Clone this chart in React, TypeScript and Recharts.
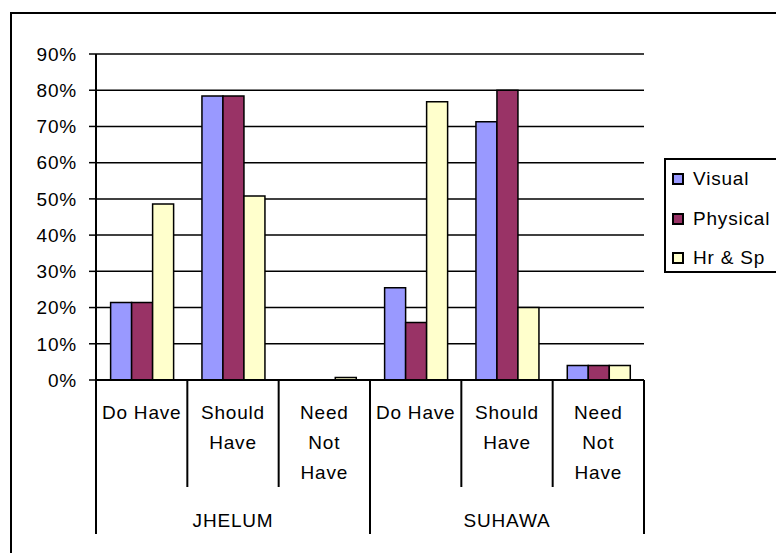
import React from 'react';
import { BarChart, Bar, XAxis, YAxis, CartesianGrid, Legend } from 'recharts';

// Survey groups and the answer categories inside each group
const groups = ['JHELUM', 'SUHAWA'];
const categories = ['Do Have', 'Should Have', 'Need Not Have'];
const categoryLines = [['Do Have'], ['Should', 'Have'], ['Need', 'Not', 'Have']];

// Percent of respondents per series, in order JHELUM (3 categories) then SUHAWA (3 categories)
const visual = [21.4, 78.4, 0, 25.5, 71.3, 4];
const physical = [21.4, 78.4, 0, 15.9, 80, 4];
const hrSp = [48.6, 50.8, 0.7, 76.8, 20, 4];

const yTicks = [0, 10, 20, 30, 40, 50, 60, 70, 80, 90];

const seriesDefs = [
  { key: 'visual', name: 'Visual', color: '#9999FF' },
  { key: 'physical', name: 'Physical', color: '#993366' },
  { key: 'hrSp', name: 'Hr & Sp', color: '#FFFFCC' },
];

const data = visual.map((v, i) => ({
  key: `${groups[Math.floor(i / categories.length)]} ${categories[i % categories.length]}`,
  group: Math.floor(i / categories.length),
  cat: i % categories.length,
  visual: v,
  physical: physical[i],
  hrSp: hrSp[i],
}));

const FONT = '"Liberation Sans", Arial, sans-serif';
const FONT_SIZE = 19;
const LETTER = 0.8;

const WIDTH = 776;
const HEIGHT = 553;
const MARGIN = { top: 54, right: 132, left: 0, bottom: 13 };
const Y_AXIS_WIDTH = 96;
const X_AXIS_HEIGHT = 160;
const BAND = (WIDTH - MARGIN.left - MARGIN.right - Y_AXIS_WIDTH) / data.length;

// Two-level category axis: category names per tick, group names under them,
// separator lines between categories and longer ones between groups.
const CategoryTick = (props: any) => {
  const { x, y, payload, index } = props;
  const half = payload && typeof payload.offset === 'number' && payload.offset > 0 ? payload.offset : BAND / 2;
  const row = data[index];
  const lines = categoryLines[row.cat];
  const isGroupStart = row.cat === 0;
  const isLast = index === data.length - 1;
  const isGroupMiddle = row.cat === 1;
  return (
    <g>
      <line
        x1={x - half}
        x2={x - half}
        y1={y}
        y2={y + (isGroupStart ? 154 : 107)}
        stroke="#000"
        strokeWidth={2}
      />
      {isLast && (
        <line x1={x + half} x2={x + half} y1={y} y2={y + 154} stroke="#000" strokeWidth={2} />
      )}
      {lines.map((t, li) => (
        <text
          key={li}
          x={x}
          y={y + 39 + li * 30}
          textAnchor="middle"
          fontFamily={FONT}
          fontSize={FONT_SIZE}
          letterSpacing={LETTER}
          fill="#000"
        >
          {t}
        </text>
      ))}
      {isGroupMiddle && (
        <text
          x={x}
          y={y + 147}
          textAnchor="middle"
          fontFamily={FONT}
          fontSize={FONT_SIZE}
          letterSpacing={LETTER}
          fill="#000"
        >
          {groups[row.group]}
        </text>
      )}
    </g>
  );
};

const LegendBox = () => (
  <div
    style={{
      position: 'relative',
      width: 124,
      height: 115,
      border: '2px solid #000',
      boxSizing: 'border-box',
      background: '#fff',
      fontFamily: FONT,
      fontSize: FONT_SIZE,
      letterSpacing: LETTER,
      color: '#000',
    }}
  >
    {seriesDefs.map((s, i) => (
      <div
        key={s.key}
        style={{
          position: 'absolute',
          left: 6,
          top: 19 + i * 39.5 - 12,
          height: 24,
          display: 'flex',
          alignItems: 'center',
          whiteSpace: 'nowrap',
        }}
      >
        <span
          style={{
            display: 'inline-block',
            width: 12,
            height: 12,
            border: '2px solid #000',
            boxSizing: 'border-box',
            background: s.color,
            marginRight: 9,
          }}
        />
        <span>{s.name}</span>
      </div>
    ))}
  </div>
);

export default function App() {
  return (
    <div
      style={{
        position: 'absolute',
        left: 0,
        top: 0,
        width: WIDTH,
        height: HEIGHT,
        overflow: 'hidden',
        background: '#fff',
      }}
    >
      <div
        style={{
          position: 'absolute',
          left: 10,
          top: 12,
          width: 820,
          height: 620,
          border: '2px solid #000',
        }}
      />
      <div style={{ position: 'absolute', left: 0, top: 0 }}>
        <BarChart
          width={WIDTH}
          height={HEIGHT}
          data={data}
          margin={MARGIN}
          barCategoryGap="16%"
          barGap={0}
        >
          <CartesianGrid vertical={false} stroke="#000" strokeWidth={1.5} />
          <XAxis
            dataKey="key"
            interval={0}
            height={X_AXIS_HEIGHT}
            axisLine={{ stroke: '#000', strokeWidth: 2 }}
            tickLine={false}
            tickSize={0}
            tickMargin={0}
            tick={<CategoryTick />}
          />
          <YAxis
            type="number"
            domain={[0, 90]}
            ticks={yTicks}
            interval={0}
            width={Y_AXIS_WIDTH}
            tickFormatter={(v: number) => `${v}%`}
            axisLine={{ stroke: '#000', strokeWidth: 2 }}
            tickLine={{ stroke: '#000', strokeWidth: 1.5 }}
            tickSize={7}
            tickMargin={12}
            tick={{ fill: '#000', fontFamily: FONT, fontSize: FONT_SIZE, letterSpacing: LETTER }}
          />
          <Legend
            layout="vertical"
            align="center"
            verticalAlign="middle"
            wrapperStyle={{ left: 664, top: 158, width: 124, height: 115 }}
            content={<LegendBox />}
          />
          {seriesDefs.map((s) => (
            <Bar
              key={s.key}
              dataKey={s.key}
              name={s.name}
              fill={s.color}
              stroke="#000"
              strokeWidth={1.5}
              isAnimationActive={false}
            />
          ))}
        </BarChart>
      </div>
    </div>
  );
}
